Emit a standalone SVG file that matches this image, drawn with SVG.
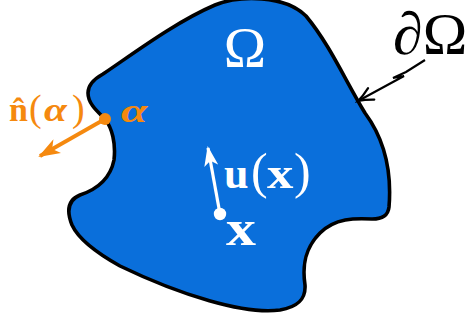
<svg xmlns="http://www.w3.org/2000/svg" width="474" height="323" viewBox="0 0 474 323">
<defs>
<style>
.serif{font-family:"Liberation Serif","Times New Roman",serif;}
.w{fill:#ffffff;}
.o{fill:#F5890F;}
.k{fill:#000000;}
</style>
<marker id="ah-orange" markerUnits="userSpaceOnUse" viewBox="0 0 22 16" refX="20" refY="8" markerWidth="22" markerHeight="16" orient="auto">
<path d="M0,0 L22,8 L0,16 L6,8 Z" fill="#F5890F"/>
</marker>
<marker id="ah-white" markerUnits="userSpaceOnUse" viewBox="0 0 20 14" refX="18" refY="7" markerWidth="20" markerHeight="14" orient="auto">
<path d="M0,0 L20,7 L0,14 L5,7 Z" fill="#ffffff"/>
</marker>
<marker id="ah-black" markerUnits="userSpaceOnUse" viewBox="0 0 20 16" refX="17" refY="8" markerWidth="20" markerHeight="16" orient="auto">
<path d="M2,1.5 Q10,6 17,8 Q10,10 2,14.5" fill="none" stroke="#000" stroke-width="2.2" stroke-linecap="round"/>
</marker>
</defs>

<g id="domain">
<path d="M105,119 C98,112 88,104 88,93 C88,86 94,79 103,74 C130,56 175,22 215,5 C240,-5 285,-5 306,16 C330,45 345,80 365,113 C385,140 392,170 389,207 C388,216 382,219 372,219 C355,218 335,218 320,233 C305,248 302,265 305,285 C306,300 297,307 280,310 C245,315 180,295 120,266 C95,252 78,238 72,225 C66,210 68,200 80,195 C95,190 110,180 114,160 C116,143 112,128 105,119 Z" fill="#0A6FDB" stroke="#000" stroke-width="3.6" stroke-linejoin="round"/>
</g>

<g id="omega-label">
<text class="serif w" x="245" y="67" font-size="57" text-anchor="middle">Ω</text>
</g>

<g id="boundary-label">
<text class="serif k" x="393" y="54" font-size="60">∂Ω</text>
</g>

<g id="connectors">
<path d="M425,60 L406,72 L393,78 L404,76 L358,101" fill="none" stroke="#000" stroke-width="2.2" stroke-linejoin="miter" marker-end="url(#ah-black)"/>
<line x1="105" y1="119" x2="40" y2="156" stroke="#F5890F" stroke-width="3.8" marker-end="url(#ah-orange)"/>
<line x1="220" y1="214" x2="208" y2="148" stroke="#ffffff" stroke-width="3.2" marker-end="url(#ah-white)"/>
</g>

<g id="alpha-point">
<circle cx="105" cy="119" r="6" fill="#F5890F"/>
<text class="serif o" transform="translate(121,122) scale(1.4,1)" font-size="34" font-weight="bold" font-style="italic">α</text>
</g>

<g id="normal-label">
<text class="serif o" x="9" y="121" font-size="34" font-weight="bold">n̂</text>
<text class="serif o" x="29" y="121" font-size="38">(</text>
<text class="serif o" transform="translate(44,121) scale(1.25,1)" font-size="33" font-weight="bold" font-style="italic">α</text>
<text class="serif o" x="72" y="121" font-size="38">)</text>
</g>

<g id="x-point">
<circle cx="220" cy="214" r="6.2" fill="#ffffff"/>
<text class="serif w" transform="translate(226,245) scale(1.2,1)" font-size="50" font-weight="bold">x</text>
</g>

<g id="u-label">
<text class="serif w" x="224" y="188" font-size="44" font-weight="bold">u</text>
<text class="serif w" x="251" y="188" font-size="50">(</text>
<text class="serif w" transform="translate(267,188) scale(1.2,1)" font-size="44" font-weight="bold">x</text>
<text class="serif w" x="294" y="188" font-size="50">)</text>
</g>
</svg>
